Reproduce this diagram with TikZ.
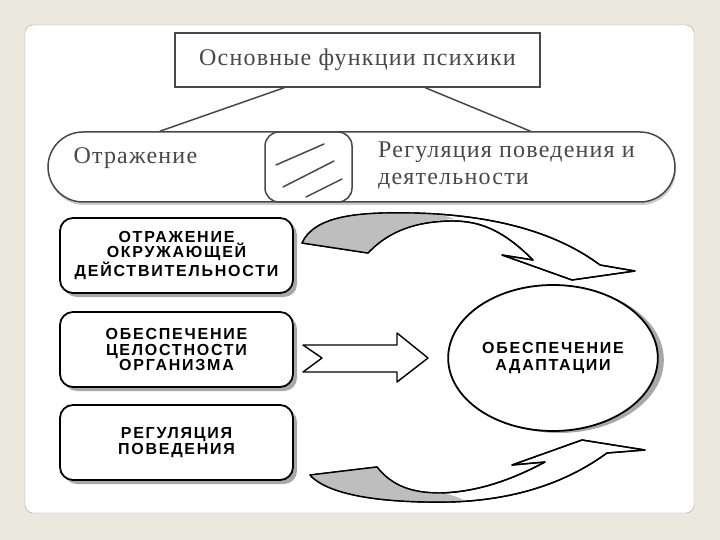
\documentclass[tikz,border=0pt]{standalone}
\usepackage{fontspec}
\setmainfont{Liberation Serif}
\newfontfamily\lettres[LetterSpace=5]{Liberation Serif}
\newfontfamily\capitales[LetterSpace=11]{Liberation Sans}
\usepackage{tikz}
\usetikzlibrary{calc}
\usetikzlibrary{math}
\usetikzlibrary{shapes.geometric}
\usetikzlibrary{shadows}

\definecolor{fond}{HTML}{EBE8DE}
\definecolor{encre}{HTML}{484848}
\definecolor{ombre}{HTML}{A8A8A8}

\tikzset{
  trait/.style={draw=encre, line width=1.5pt},
  boite/.style={draw, line width=1.8pt, rounded corners=13pt, fill=white,
    minimum width=233pt, minimum height=75pt, align=center,
    font=\capitales\bfseries\fontsize{16}{15.5}\selectfont,
    drop shadow={shadow xshift=4pt, shadow yshift=-4pt, fill=ombre, opacity=1}},
  ruban/.style={draw, line width=1.4pt, line join=round, fill=white},
  envers/.style={fill=ombre!75, draw=none}
}

\begin{document}
\begin{tikzpicture}[x=1pt,y=-1pt]
            \tikzmath{\rayon = 35;}
                % fond et cadre
                \fill[fond] (0,0) rectangle (720,540);
                \useasboundingbox (0,0) rectangle (720,540);
                \draw[draw=gray!70, fill=white, rounded corners=8pt] (25,25) rectangle (694,513);
                % partie haute
                \node[trait, minimum width=365pt, minimum height=54pt, text=encre,
                      font=\lettres\fontsize{24}{26}\selectfont] (T) at (357.5,60) {Основные функции психики};
                \node[trait, rounded corners=\rayon pt, minimum width=627pt, minimum height=70pt,
                      drop shadow={shadow xshift=1pt, shadow yshift=-3pt, fill=gray!40, opacity=1}, fill=white] (P) at (361.5,167) {};
                \node[trait, rounded corners=14pt, minimum width=87pt, minimum height=70pt] (M) at (308.5,167) {};
                \draw[trait] ($(T.south west)!0.30!(T.south east)$) -- ($(P.north west)!0.179!(P.north east)$);
                \draw[trait] ($(T.south west)!0.685!(T.south east)$) -- ($(P.north west)!0.769!(P.north east)$);
                \draw[trait, line cap=round] (276,165) -- (324,144);
                \draw[trait, line cap=round] (283,187) -- (334,161);
                \draw[trait, line cap=round] (306,197) -- (342,179);
                \node[anchor=west, text=encre, font=\lettres\fontsize{24}{26}\selectfont] (otr) at (70,158) {Отражение};
                \node[anchor=north west, align=left, text=encre, font=\lettres\fontsize{24}{27}\selectfont,
                      inner sep=0pt] (reg) at (378,142) {Регуляция поведения и\\деятельности};
                % fonctions
                \node[boite] (B1) at (176.5,255.5) {ОТРАЖЕНИЕ\\ОКРУЖАЮЩЕЙ\\ДЕЙСТВИТЕЛЬНОСТИ};
                \node[boite] (B2) at (176.5,349.5) {ОБЕСПЕЧЕНИЕ\\ЦЕЛОСТНОСТИ\\ОРГАНИЗМА};
                \node[boite] (B3) at (176.5,442.5) {РЕГУЛЯЦИЯ\\ПОВЕДЕНИЯ};
                \node[ellipse, draw, line width=1.8pt, fill=white, minimum width=206pt, minimum height=146pt,
                      align=center, font=\capitales\bfseries\fontsize{16}{17}\selectfont,
                      drop shadow={shadow xshift=6pt, shadow yshift=-2pt, fill=ombre, opacity=1}] (E) at (553,358)
                      {ОБЕСПЕЧЕНИЕ\\АДАПТАЦИИ};
                % fleche du haut
                \draw[ruban] (302,243) .. controls (315,215) and (360,212) .. (413,213)
                  .. controls (500,215) and (560,235) .. (600,265) -- (635,271) -- (572,280) -- (502,255) -- (533,260)
                  .. controls (505,232) and (482,221) .. (453,221) .. controls (410,221) and (385,235) .. (368,253) -- cycle;
                \fill[envers] (302,243) .. controls (315,215) and (360,212) .. (413,213)
                  .. controls (430,213) and (445,215) .. (455,219)
                  .. controls (410,221) and (385,235) .. (368,253) -- cycle;
                \draw[ruban, fill=none] (302,243) .. controls (315,215) and (360,212) .. (413,213)
                  .. controls (500,215) and (560,235) .. (600,265) -- (635,271) -- (572,280) -- (502,255) -- (533,260)
                  .. controls (505,232) and (482,221) .. (453,221) .. controls (410,221) and (385,235) .. (368,253) -- cycle;
                % fleche du milieu
                \draw[ruban] (303,345) -- (397,345) -- (397,333) -- (428,358) -- (397,382) -- (397,372) -- (303,372) -- (322,358) -- cycle;
                % fleche du bas
                \draw[ruban] (310,475) -- (377,467) .. controls (392,486) and (412,493) .. (440,493)
                  .. controls (480,492) and (515,478) .. (545,462) -- (512,465) -- (582,440) -- (645,450) -- (607,453)
                  .. controls (570,480) and (520,500) .. (450,502) .. controls (390,503) and (330,497) .. (310,475) -- cycle;
                \fill[envers] (310,475) -- (377,467) .. controls (392,486) and (412,493) .. (440,493)
                  .. controls (455,495) and (462,499) .. (465,501)
                  .. controls (390,503) and (330,497) .. (310,475) -- cycle;
                \draw[ruban, fill=none] (310,475) -- (377,467) .. controls (392,486) and (412,493) .. (440,493)
                  .. controls (480,492) and (515,478) .. (545,462) -- (512,465) -- (582,440) -- (645,450) -- (607,453)
                  .. controls (570,480) and (520,500) .. (450,502) .. controls (390,503) and (330,497) .. (310,475) -- cycle;
            \end{tikzpicture}
\end{document}
